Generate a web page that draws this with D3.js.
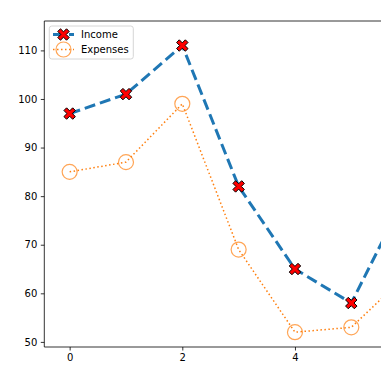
<!DOCTYPE html>
<html><head><meta charset="utf-8">
<script src="https://cdn.jsdelivr.net/npm/d3@7"></script>
<style>body{margin:0;background:#fff}svg{display:block}text{font-family:"DejaVu Sans",sans-serif}</style>
</head><body><svg id="c" width="381" height="381"></svg>
<script>
const xs = [0, 1, 2, 3, 4, 5, 6];
const income = [97, 101, 111, 82, 65, 58, 81];
const expenses = [85, 87, 99, 69, 52, 53, 64];
const xTicks = [0, 2, 4];
const yTicks = [50, 60, 70, 80, 90, 100, 110];
const seriesNames = ["Income", "Expenses"];

const svg = d3.select("#c");
const L = 44.3, T = 21, B = 347;
const x = d3.scaleLinear().domain([-0.45, 9.45]).range([L, L + 9.9 * 56.33]);
const y = d3.scaleLinear().domain([48.95, 116.05]).range([B, T]);

// axes
const gx = svg.append("g").attr("transform", `translate(0,${B})`)
  .call(d3.axisBottom(x).tickValues(xTicks).tickFormat(d3.format("d")).tickSize(3.5).tickPadding(3.5));
const gy = svg.append("g").attr("transform", `translate(${L},0)`)
  .call(d3.axisLeft(y).tickValues(yTicks).tickFormat(d3.format("d")).tickSize(3.5).tickPadding(3.5));
[gx, gy].forEach(g => {
  g.select(".domain").remove();
  g.selectAll("line").attr("stroke", "#000").attr("stroke-width", 0.8);
  g.selectAll("text").attr("font-size", 10).attr("fill", "#000").attr("font-family", "DejaVu Sans");
});
// spines
svg.append("line").attr("x1", L).attr("x2", L).attr("y1", T).attr("y2", B).attr("stroke", "#000").attr("stroke-width", 0.8);
svg.append("line").attr("x1", L).attr("x2", x.range()[1]).attr("y1", B).attr("y2", B).attr("stroke", "#000").attr("stroke-width", 0.8);
svg.append("line").attr("x1", L).attr("x2", x.range()[1]).attr("y1", T).attr("y2", T).attr("stroke", "#000").attr("stroke-width", 0.8);

const line = d3.line().x((d, i) => x(xs[i])).y(d => y(d));

// X marker path
function xPath(L2, a) {
  const pts = [[a,a],[a,L2],[-a,L2],[-a,a],[-L2,a],[-L2,-a],[-a,-a],[-a,-L2],[a,-L2],[a,-a],[L2,-a],[L2,a]];
  const c = Math.SQRT1_2;
  return "M" + pts.map(([px, py]) => [(px - py) * c, (px + py) * c].map(v => v.toFixed(2)).join(",")).join("L") + "Z";
}
const xm = xPath(6.2, 1.9);

// Expenses
svg.append("path").datum(expenses).attr("d", line).attr("fill", "none")
  .attr("stroke", "#ff7f0e").attr("stroke-width", 1.5).attr("stroke-dasharray", "1.5,2.5");
svg.selectAll(".em").data(expenses).enter().append("circle")
  .attr("cx", (d, i) => x(xs[i])).attr("cy", d => y(d)).attr("r", 7.5)
  .attr("fill", "none").attr("stroke", "#ff7f0e").attr("stroke-opacity", 0.7).attr("stroke-width", 1.2);

// Income
svg.append("path").datum(income).attr("d", line).attr("fill", "none")
  .attr("stroke", "#1f77b4").attr("stroke-width", 3).attr("stroke-dasharray", "11,5");
svg.selectAll(".im").data(income).enter().append("path")
  .attr("transform", (d, i) => `translate(${x(xs[i])},${y(d)})`).attr("d", xm)
  .attr("fill", "red").attr("stroke", "#000").attr("stroke-width", 1);

// legend
const lg = svg.append("g");
lg.append("rect").attr("x", 49.3).attr("y", 26).attr("width", 84).attr("height", 33).attr("rx", 2.5)
  .attr("fill", "#fff").attr("fill-opacity", 0.8).attr("stroke", "#ccc").attr("stroke-width", 0.8);
const ly = [34.5, 49.5];
lg.append("line").attr("x1", 53).attr("x2", 74).attr("y1", ly[0]).attr("y2", ly[0])
  .attr("stroke", "#1f77b4").attr("stroke-width", 3).attr("stroke-dasharray", "11,5");
lg.append("path").attr("transform", `translate(63.5,${ly[0]})`).attr("d", xm)
  .attr("fill", "red").attr("stroke", "#000").attr("stroke-width", 1);
lg.append("line").attr("x1", 53).attr("x2", 74).attr("y1", ly[1]).attr("y2", ly[1])
  .attr("stroke", "#ff7f0e").attr("stroke-width", 1.5).attr("stroke-dasharray", "1.5,2.5");
lg.append("circle").attr("cx", 63.5).attr("cy", ly[1]).attr("r", 7.5)
  .attr("fill", "none").attr("stroke", "#ff7f0e").attr("stroke-opacity", 0.7).attr("stroke-width", 1.2);
lg.selectAll(".lt").data(seriesNames).enter().append("text")
  .attr("x", 81).attr("y", (d, i) => ly[i]).attr("dy", "0.35em")
  .attr("font-size", 10).attr("fill", "#000").text(d => d);
</script></body></html>
